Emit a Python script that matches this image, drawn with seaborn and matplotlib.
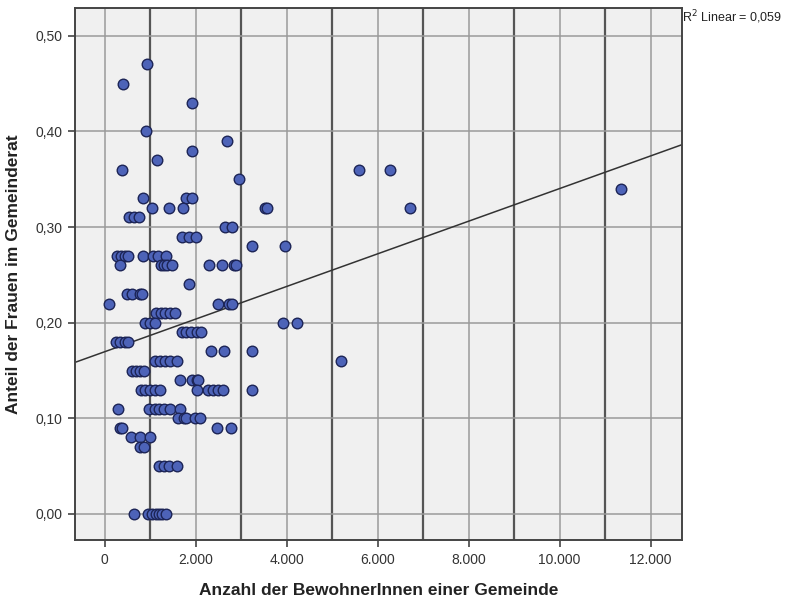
import numpy as np
import pandas as pd
import matplotlib
matplotlib.use("Agg")
import matplotlib.pyplot as plt
import matplotlib.ticker as mticker
import seaborn as sns

# ---- data (share of women, inhabitants per community) ----
share_levels = [0.47, 0.45, 0.43, 0.40, 0.39, 0.38, 0.37, 0.36, 0.35, 0.34, 0.33, 0.32,
                0.31, 0.30, 0.29, 0.28, 0.27, 0.26, 0.24, 0.23, 0.22, 0.21, 0.20, 0.19,
                0.18, 0.17, 0.16, 0.15, 0.14, 0.13, 0.11, 0.10, 0.09, 0.08, 0.07, 0.05, 0.00]
inhabitants_by_level = [
    [930],
    [410],
    [1920],
    [905],
    [2700],
    [1915],
    [1160],
    [380, 5600, 6275],
    [2965],
    [11345],
    [850, 1785, 1930],
    [1045, 1405, 1725, 3530, 3570, 6715],
    [545, 655, 765],
    [2650, 2800],
    [1710, 1860, 2020],
    [3235, 3965],
    [270, 360, 440, 520, 840, 1060, 1180, 1340],
    [340, 1250, 1300, 1370, 1490, 2300, 2580, 2840, 2880],
    [1850],
    [490, 600, 780, 820],
    [90, 2485, 2740, 2800],
    [1130, 1250, 1330, 1440, 1550],
    [890, 1000, 1115, 3915, 4235],
    [1700, 1785, 1910, 2025, 2110],
    [250, 330, 450, 520],
    [2340, 2615, 3235],
    [1110, 1220, 1330, 1430, 1590, 5200],
    [610, 700, 780, 860],
    [1660, 1930, 2030, 2050],
    [790, 890, 1000, 1110, 1210, 2030, 2270, 2380, 2490, 2610, 3240],
    [285, 980, 1110, 1200, 1300, 1430, 1660],
    [1620, 1740, 1800, 1990, 2100],
    [345, 375, 2460, 2775],
    [580, 780, 995],
    [770, 870],
    [1200, 1300, 1420, 1590],
    [655, 955, 1040, 1120, 1200, 1260, 1340],
]
x_ticks = [0, 2000, 4000, 6000, 8000, 10000, 12000]
x_tick_labels = ["0", "2.000", "4.000", "6.000", "8.000", "10.000", "12.000"]
y_ticks = [0.0, 0.1, 0.2, 0.3, 0.4, 0.5]
y_tick_labels = ["0,00", "0,10", "0,20", "0,30", "0,40", "0,50"]
r2_label = "R$^2$ Linear = 0,059"
x_label = "Anzahl der BewohnerInnen einer Gemeinde"
y_label = "Anteil der Frauen im Gemeinderat"

rows = []
for lvl, xs in zip(share_levels, inhabitants_by_level):
    for xv in xs:
        rows.append({"Einwohner": xv, "Anteil": lvl})
df = pd.DataFrame(rows)

sns.set_theme(style="white")
plt.rcParams["font.family"] = ["Liberation Sans", "DejaVu Sans"]

fig = plt.figure(figsize=(7.91, 5.99), dpi=100)
ax = fig.add_axes([75 / 791, 1 - 540 / 599, (682 - 75) / 791, (540 - 8) / 599])
ax.set_facecolor("#f0f0f0")

xlim = (-650, 12690)
ylim = (-0.0272, 0.529)
ax.set_xlim(*xlim)
ax.set_ylim(*ylim)

# grid: thin at major ticks, thick dark at odd thousands
ax.set_xticks(x_ticks)
ax.set_xticks([1000, 3000, 5000, 7000, 9000, 11000], minor=True)
ax.set_yticks(y_ticks)
ax.grid(True, which="major", axis="both", color="#9a9a9a", lw=1.1, zorder=0)
ax.grid(True, which="minor", axis="x", color="#555555", lw=1.6, zorder=0)
ax.set_axisbelow(True)

sns.regplot(data=df, x="Einwohner", y="Anteil", scatter=False, ci=None,
            truncate=False, ax=ax,
            line_kws={"color": "#333333", "lw": 1.1, "zorder": 2})
sns.scatterplot(data=df, x="Einwohner", y="Anteil", ax=ax, s=58,
                color="#4d63b8", edgecolor="#1c2456", linewidth=1.0, zorder=3,
                legend=False)

ax.set_xlim(*xlim)
ax.set_ylim(*ylim)
ax.set_xticklabels(x_tick_labels)
ax.set_yticklabels(y_tick_labels)
ax.tick_params(axis="both", which="major", direction="out", length=5, width=1.2,
               color="#444444", labelsize=10, labelcolor="#333333",
               bottom=True, left=True, pad=4)
ax.tick_params(axis="x", which="minor", length=0, bottom=False)
ax.set_xlabel(x_label, fontsize=12.5, fontweight="bold", color="#222222", labelpad=12)
ax.set_ylabel(y_label, fontsize=12.5, fontweight="bold", color="#222222", labelpad=10)

for sp in ax.spines.values():
    sp.set_visible(True)
    sp.set_color("#444444")
    sp.set_linewidth(1.4)

fig.text(682 / 791, 1 - 17 / 599, r2_label, fontsize=9, color="#222222",
         ha="left", va="center")

fig.savefig("out.png", dpi=100)
